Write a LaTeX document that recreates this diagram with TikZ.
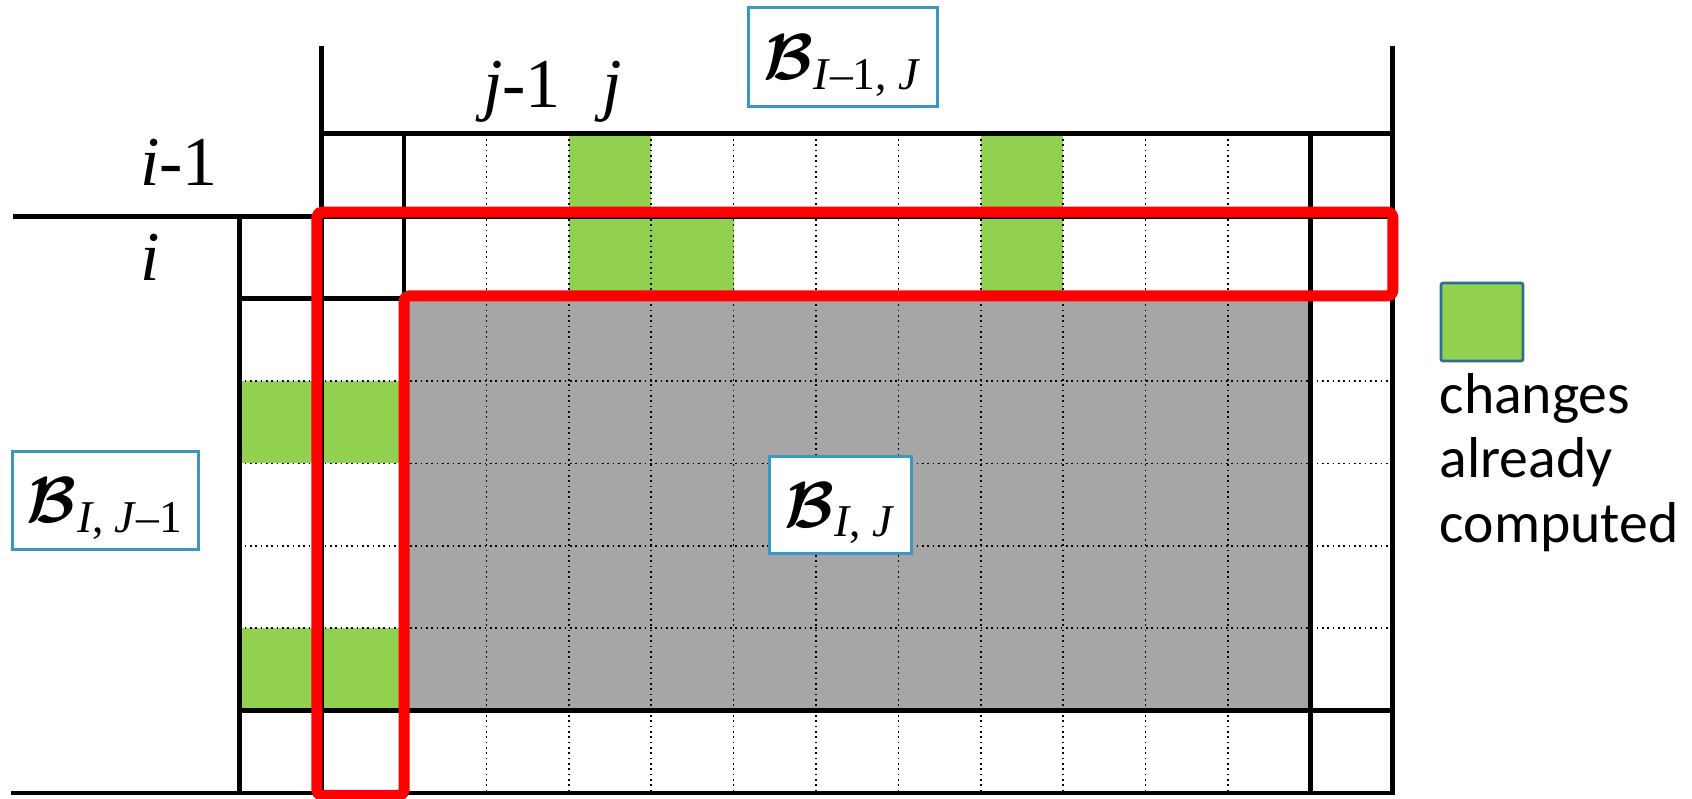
\documentclass[tikz,border=0pt]{standalone}
\usepackage{fix-cm}
\usepackage{amsmath}
\usepackage{fontspec}
\setmainfont{Liberation Serif}
\newfontfamily\legendfont{Carlito}

\definecolor{changed}{HTML}{92D050}
\definecolor{blockgrey}{HTML}{A6A6A6}
\definecolor{frontier}{HTML}{FF0000}
\definecolor{labelframe}{HTML}{3C96BF}
\definecolor{keyframe}{HTML}{2F6E8E}

\tikzset{
  gridline/.style={line width=1.4pt, line cap=rect, black},
  dotline/.style={line width=0.45pt, black, dash pattern=on 0.5pt off 1.1pt},
  frontierline/.style={draw=frontier, line width=3.3pt, line join=round, rounded corners=1.5pt},
  blocklabel/.style={draw=labelframe, line width=0.9pt, fill=white, inner sep=0pt,
    font=\fontsize{19.5}{23}\selectfont},
  indexlabel/.style={anchor=base, inner sep=0pt, font=\fontsize{21}{25}\selectfont},
  keytext/.style={anchor=base west, inner sep=0pt, font=\legendfont\fontsize{17.3}{20}\selectfont},
}

% block symbol with its subscript, lowered a little inside its frame
\newcommand{\blocksym}[1]{\raisebox{-2.6pt}[\height][\depth]{$\boldsymbol{\mathcal{B}}_{\text{#1}}$}}

\begin{document}
\begin{tikzpicture}[x=0.3pt, y=-0.3pt]
\useasboundingbox (0,0) rectangle (1692,798);

% grid in cell units: column c, row r
\begin{scope}[shift={(321.6,133.8)}, scale=82.4]
  % current block and already computed changes
  \fill[blockgrey] (1,2) rectangle (12,7);
  \fill[changed] (3,0) rectangle (4,1);
  \fill[changed] (8,0) rectangle (9,1);
  \fill[changed] (3,1) rectangle (5,2);
  \fill[changed] (8,1) rectangle (9,2);
  \fill[changed] (-1,3) rectangle (1,4);
  \fill[changed] (-1,6) rectangle (1,7);

  % cell boundaries
  \foreach \c in {2,...,11} \draw[dotline] (\c,0) -- (\c,8);
  \foreach \r in {3,...,6} \draw[dotline] (-1,\r) -- (13,\r);

  % block boundaries
  \draw[gridline] (0,-1.041) -- (0,8);
  \draw[gridline] (13,-1.041) -- (13,8);
  \draw[gridline] (1,0) -- (1,8);
  \draw[gridline] (12,0) -- (12,8);
  \draw[gridline] (-1,1) -- (-1,8);
  \draw[gridline] (0,0) -- (13,0);
  \draw[gridline] (-3.72,1) -- (13,1);
  \draw[gridline] (-1,2) -- (13,2);
  \draw[gridline] (-1,7) -- (13,7);
  \draw[gridline] (-3.74,8) -- (13,8);

  % cells whose changes are computed now
  \draw[frontierline] (-0.056,0.949) -- (13,0.949) -- (13,1.968) -- (1,1.968)
    -- (1,8.03) -- (-0.056,8.03) -- cycle;
\end{scope}

% row and column indices
\node[indexlabel] (jprev) at (522,107) {\textit{j}-1};
\node[indexlabel] (jcur) at (612,107) {\textit{j}};
\node[indexlabel] (iprev) at (179,185) {\textit{i}-1};
\node[indexlabel] (icur) at (150,280) {\textit{i}};

% block names
\node[blocklabel, minimum width=56.7pt, minimum height=29.7pt] (bnorth) at (842.5,57)
  {\blocksym{\textit{I}–1, \textit{J}}};
\node[blocklabel, minimum width=55.8pt, minimum height=29.4pt] (bwest) at (105.5,500)
  {\blocksym{\textit{I}, \textit{J}–1}};
\node[blocklabel, minimum width=42.6pt, minimum height=29.1pt] (bcur) at (840,504.5)
  {\blocksym{\textit{I}, \textit{J}}};

% legend
\node[draw=keyframe, fill=changed, line width=0.8pt, rounded corners=0.6pt,
  minimum width=24.6pt, minimum height=23.4pt, inner sep=0pt] (key) at (1482,322) {};
\node[keytext] (key1) at (1439,413) {changes};
\node[keytext] (key2) at (1439,477) {already};
\node[keytext] (key3) at (1439,542) {computed};
\end{tikzpicture}
\end{document}
